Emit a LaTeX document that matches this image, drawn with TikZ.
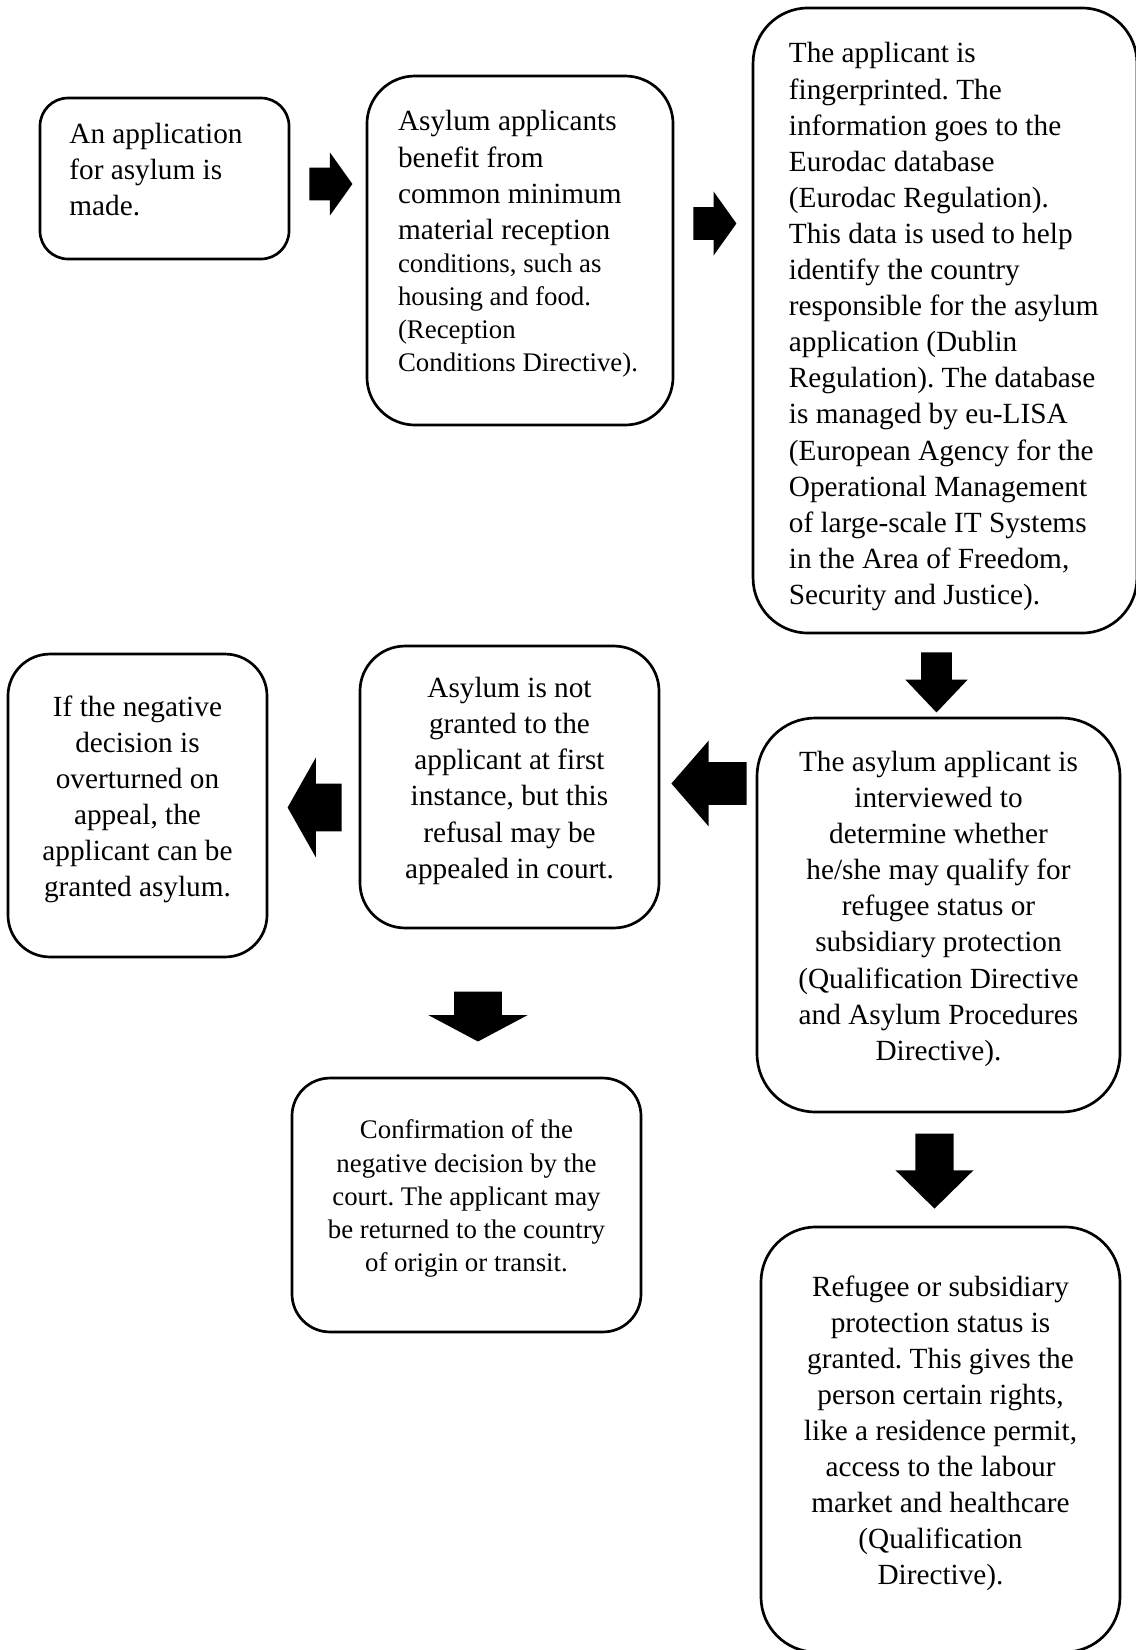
\documentclass[tikz,border=0pt]{standalone}
\usepackage{fontspec}
\setmainfont{Liberation Serif}
\usetikzlibrary{shapes.arrows}
\setlength{\parindent}{0pt}
\frenchspacing
\newcommand{\lowstrut}{\rule[-7.6pt]{0pt}{0pt}}
\tikzset{
  stage/.style={draw, line width=1.1pt, rounded corners=#1, inner sep=0pt,
    font=\fontsize{12}{14.8}\selectfont},
  smalltext/.style={font=\fontsize{11}{13.6}\selectfont},
  fat arrow/.style n args={4}{single arrow, fill=black, inner xsep=0pt,
    inner ysep=#2, single arrow head indent=0pt, minimum height=#1,
    single arrow head extend=#3, single arrow tip angle=#4, anchor=tail}
}
\begin{document}
\begin{tikzpicture}[x=0.41pt, y=-0.41pt]
\path[use as bounding box, fill=white] (0,0) rectangle (1135,1650);
\node[stage=11.5pt, minimum width=102.1pt, minimum height=66pt, text width=78pt, align=flush left] (apply) at (164.5,178.5) {An application\\ for asylum is\\ made.\lowstrut};
\node[stage=19.7pt, minimum width=125.5pt, minimum height=143.1pt, text width=100pt, align=flush left] (benefit) at (520,250.5) {Asylum applicants\\ benefit from\\ common minimum\\ material reception\par {\fontsize{11}{13.6}\selectfont conditions, such as\\ housing and food.\\ (Reception\\ Conditions Directive).\lowstrut\par}};
\node[stage=22.6pt, minimum width=157.4pt, minimum height=256.3pt, text width=128pt, align=flush left] (finger) at (945,320.5) {\rule{0pt}{13.4pt}The applicant is\\ fingerprinted. The\\ information goes to the\\ Eurodac database\\ (Eurodac Regulation).\\ This data is used to help\\ identify the country\\ responsible for the asylum\\ application (Dublin\\ Regulation). The database\\ is managed by eu-LISA\\ (European Agency for the\\ Operational Management\\ of large-scale IT Systems\\ in the Area of Freedom,\\ Security and Justice).};
\node[stage=23.8pt, minimum width=148.8pt, minimum height=161.5pt, align=center] (interview) at (938.5,915) {The asylum applicant is\\ interviewed to\\ determine whether\\ he/she may qualify for\\ refugee status or\\ subsidiary protection\\ (Qualification Directive\\ and Asylum Procedures\\ Directive).\lowstrut};
\node[stage=18.5pt, minimum width=122.6pt, minimum height=115.6pt, align=center] (refused) at (509.5,787) {Asylum is not\\ granted to the\\ applicant at first\\ instance, but this\\ refusal may be\\ appealed in court.\lowstrut};
\node[stage=17.2pt, minimum width=106.2pt, minimum height=124.2pt, align=center] (appeal) at (137.5,805.5) {If the negative\\ decision is\\ overturned on\\ appeal, the\\ applicant can be\\ granted asylum.\lowstrut};
\node[stage=15.6pt, smalltext, minimum width=143.1pt, minimum height=104.1pt, align=center] (confirm) at (466.5,1205) {Confirmation of the\\ negative decision by the\\ court. The applicant may\\ be returned to the country\\ of origin or transit.\lowstrut};
\node[stage=22.6pt, minimum width=147.2pt, minimum height=174.3pt, align=center] (granted) at (940.5,1439.5) {Refugee or subsidiary\\ protection status is\\ granted. This gives the\\ person certain rights,\\ like a residence permit,\\ access to the labour\\ market and healthcare\\ (Qualification\\ Directive).\lowstrut};
\node[fat arrow={17.6pt}{6.55pt}{6.2pt}{109}] (a1) at (309,184) {};
\node[fat arrow={17.6pt}{6.55pt}{6.4pt}{109}] (a2) at (693,223.5) {};
\node[fat arrow={24.6pt}{6.15pt}{6.4pt}{87}, rotate=-90] (a3) at (936.5,652) {};
\node[fat arrow={30.8pt}{8.6pt}{8.8pt}{98}, rotate=180] (a4) at (747,783.5) {};
\node[fat arrow={22.1pt}{9.6pt}{10.7pt}{121}, rotate=180] (a5) at (342,807.5) {};
\node[fat arrow={20.5pt}{9.6pt}{10.5pt}{124}, rotate=-90] (a6) at (478,991) {};
\node[fat arrow={30.8pt}{7.6pt}{8.2pt}{91}, rotate=-90] (a7) at (934.5,1133) {};
\end{tikzpicture}
\end{document}
